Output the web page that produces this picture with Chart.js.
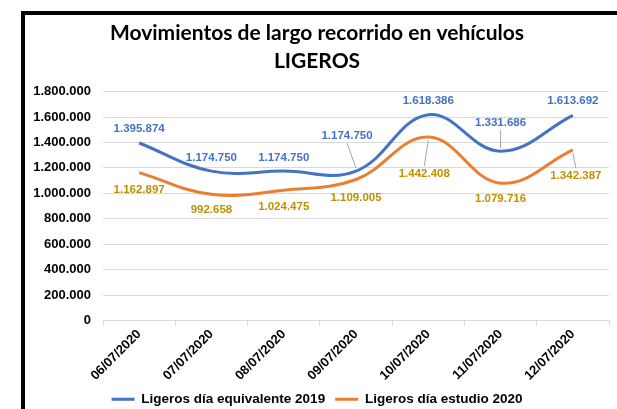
<!DOCTYPE html>
<html>
<head>
<meta charset="utf-8">
<script src="https://cdn.jsdelivr.net/npm/chart.js@4/dist/chart.umd.min.js"></script>
<style>
  html, body { margin: 0; padding: 0; background: #fff; }
  body { width: 617px; height: 409px; position: relative; overflow: hidden; }
  #frame { position: absolute; left: 21px; top: 11px; width: 592px; height: 401px;
           border-left: 4px solid #000; border-top: 4px solid #000; }
  #chart { display: block; }
</style>
</head>
<body>
<div id="frame"><canvas id="chart" width="592" height="401"></canvas></div>
<script>
const dates = ['06/07/2020', '07/07/2020', '08/07/2020', '09/07/2020', '10/07/2020', '11/07/2020', '12/07/2020'];
const ligeros2019 = [1395874, 1174750, 1174750, 1174750, 1618386, 1331686, 1613692];
const ligeros2020 = [1162897, 992658, 1024475, 1109005, 1442408, 1079716, 1342387];
const yTicks = [0, 200000, 400000, 600000, 800000, 1000000, 1200000, 1400000, 1600000, 1800000];

// label offsets from each point (px) and whether a leader line is drawn
const offsets2019 = [[0, -14], [0, -13], [0, -13], [-9, -35], [0, -14], [0, -28], [0, -14]];
const offsets2020 = [[0, 17], [0, 16], [0, 17], [0, 18], [-4, 37], [0, 16], [3, 26]];
const leaders2019 = [false, false, false, true, false, true, false];
const leaders2020 = [false, false, false, false, true, false, true];

const fmt = v => v.toLocaleString('de-DE');

const valueLabels = {
  id: 'valueLabels',
  afterDatasetsDraw(chart) {
    const ctx = chart.ctx;
    const sets = [
      { offs: offsets2019, lead: leaders2019, color: '#4472C4' },
      { offs: offsets2020, lead: leaders2020, color: '#C09000' }
    ];
    ctx.save();
    ctx.font = 'bold 11.5px "Liberation Sans", Arial, sans-serif';
    ctx.textAlign = 'center';
    ctx.textBaseline = 'middle';
    sets.forEach((s, di) => {
      const meta = chart.getDatasetMeta(di);
      const data = chart.data.datasets[di].data;
      meta.data.forEach((pt, i) => {
        const [dx, dy] = s.offs[i];
        const lx = pt.x + dx, ly = pt.y + dy;
        if (s.lead[i]) {
          const sy = ly + (dy < 0 ? 7 : -8);
          ctx.strokeStyle = '#a6a6a6';
          ctx.lineWidth = 1;
          ctx.beginPath();
          ctx.moveTo(lx, sy);
          ctx.lineTo(pt.x, pt.y + (dy < 0 ? -3 : 3));
          ctx.stroke();
        }
        ctx.fillStyle = s.color;
        ctx.fillText(fmt(data[i]), lx, ly);
      });
    });
    ctx.restore();
  }
};

new Chart(document.getElementById('chart'), {
  type: 'line',
  data: {
    labels: dates,
    datasets: [
      { label: 'Ligeros día equivalente 2019', data: ligeros2019, borderColor: '#4472C4', backgroundColor: '#4472C4',
        borderWidth: 3, pointRadius: 0, tension: 0.4 },
      { label: 'Ligeros día estudio 2020', data: ligeros2020, borderColor: '#ED7D31', backgroundColor: '#ED7D31',
        borderWidth: 3, pointRadius: 0, tension: 0.4 }
    ]
  },
  options: {
    responsive: false,
    animation: false,
    layout: { padding: { left: 0, right: 8, top: 0, bottom: 0 } },
    plugins: {
      title: {
        display: true,
        text: ['Movimientos de largo recorrido en vehículos', 'LIGEROS'],
        color: '#000',
        font: { family: 'Lato, "Liberation Sans", sans-serif', size: 21, weight: 'bold', lineHeight: 1.3 },
        padding: { top: 5, bottom: 17 }
      },
      legend: {
        position: 'bottom',
        labels: {
          color: '#000',
          font: { family: '"Liberation Sans", Arial, sans-serif', size: 13.5, weight: 'bold' },
          usePointStyle: true,
          pointStyle: 'line',
          pointStyleWidth: 23,
          padding: 10
        }
      },
      tooltip: { enabled: false }
    },
    scales: {
      x: {
        offset: true,
        afterFit: s => { s.height = 62; },
        grid: { drawOnChartArea: false, offset: true, tickLength: 5, color: '#d9d9d9' },
        border: { color: '#d9d9d9' },
        ticks: {
          color: '#000', minRotation: 45, maxRotation: 45, padding: 1,
          font: { family: '"Liberation Sans", Arial, sans-serif', size: 13, weight: 'bold' }
        }
      },
      y: {
        min: 0, max: 1800000,
        afterBuildTicks: s => { s.ticks = yTicks.map(v => ({ value: v })); },
        afterFit: s => { s.width = 78; },
        grid: { color: '#d9d9d9', drawTicks: false },
        border: { display: false },
        ticks: {
          color: '#000', padding: 12,
          font: { family: '"Liberation Sans", Arial, sans-serif', size: 13, weight: 'bold' },
          callback: v => fmt(v)
        }
      }
    }
  },
  plugins: [valueLabels]
});
</script>
</body>
</html>
